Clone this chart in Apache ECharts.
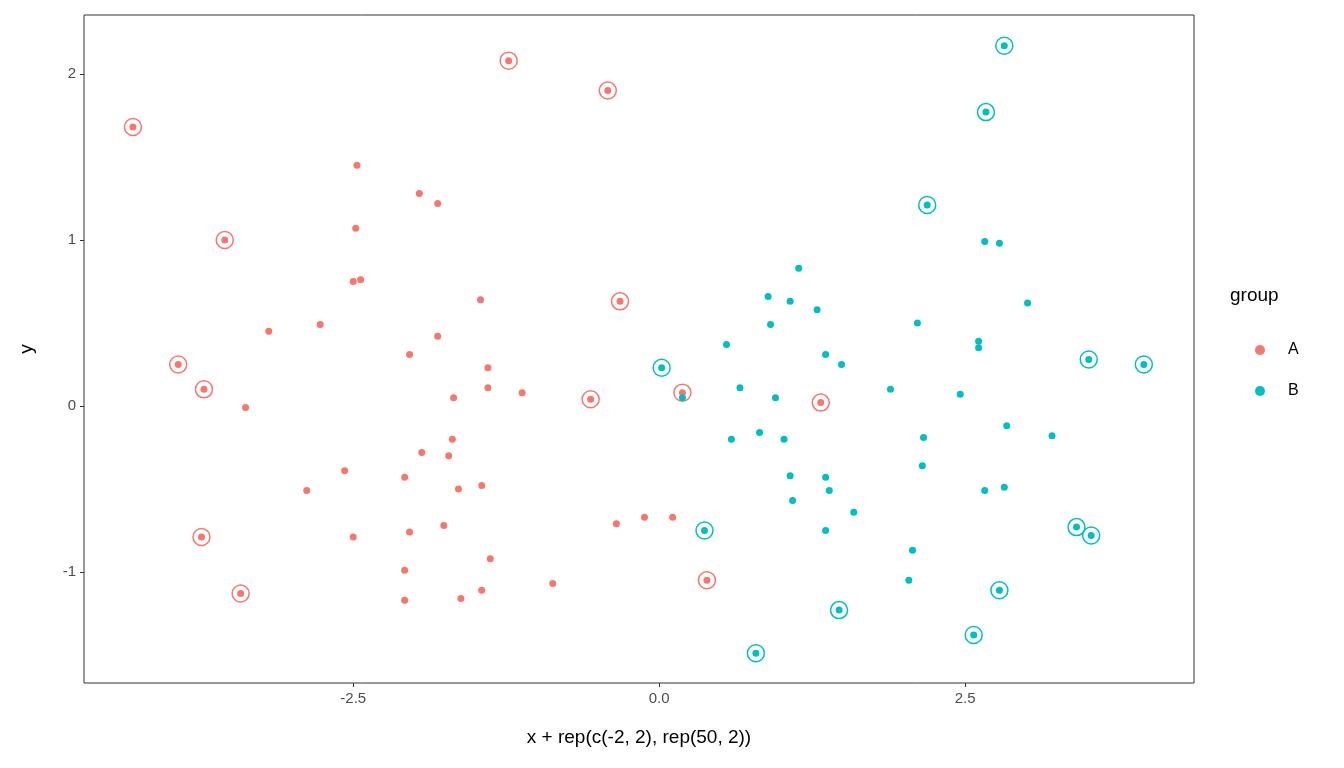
<!DOCTYPE html>
<html>
<head>
<meta charset="utf-8">
<script src="https://cdn.jsdelivr.net/npm/echarts@6/dist/echarts.min.js"></script>
<style>html,body{margin:0;padding:0;background:#fff}#main{width:1344px;height:768px}</style>
</head>
<body>
<div id="main"></div>
<script>
// group A
var aX = [-4.30,-1.23,-0.42,-3.55,-2.47,-1.96,-1.81,-2.48,-2.50,-2.44,-1.46,-0.32,-3.19,-2.77,-1.81,-2.04,-3.93,-1.40,-3.72,-1.40,-1.12,-1.68,-3.38,-0.56,0.19,1.32,-1.69,-1.94,-1.72,-2.57,-2.08,-1.64,-1.45,-2.88,-0.12,0.11,-0.35,-1.76,-2.04,-2.50,-3.74,-1.38,-2.08,0.39,-0.87,-1.45,-3.42,-1.62,-2.08];
var aY = [1.68,2.08,1.90,1.00,1.45,1.28,1.22,1.07,0.75,0.76,0.64,0.63,0.45,0.49,0.42,0.31,0.25,0.23,0.10,0.11,0.08,0.05,-0.01,0.04,0.08,0.02,-0.20,-0.28,-0.30,-0.39,-0.43,-0.50,-0.48,-0.51,-0.67,-0.67,-0.71,-0.72,-0.76,-0.79,-0.79,-0.92,-0.99,-1.05,-1.07,-1.11,-1.13,-1.16,-1.17];
var aRing = [1,1,1,1,0,0,0,0,0,0,0,1,0,0,0,0,1,0,1,0,0,0,0,1,1,1,0,0,0,0,0,0,0,0,0,0,0,0,0,0,1,0,0,1,0,0,1,0,0];
// group B
var bX = [2.82,2.67,2.19,1.14,2.66,2.78,0.89,1.07,1.29,3.01,2.11,0.91,0.55,2.61,2.61,1.36,1.49,3.51,3.96,0.02,0.66,1.89,0.95,2.46,0.19,2.84,3.21,0.82,2.16,1.02,0.59,2.15,1.07,1.36,1.39,2.82,2.66,1.09,1.59,3.41,3.53,0.37,1.36,2.07,2.04,2.78,1.47,2.57,0.79];
var bY = [2.17,1.77,1.21,0.83,0.99,0.98,0.66,0.63,0.58,0.62,0.50,0.49,0.37,0.39,0.35,0.31,0.25,0.28,0.25,0.23,0.11,0.10,0.05,0.07,0.05,-0.12,-0.18,-0.16,-0.19,-0.20,-0.20,-0.36,-0.42,-0.43,-0.51,-0.49,-0.51,-0.57,-0.64,-0.73,-0.78,-0.75,-0.75,-0.87,-1.05,-1.11,-1.23,-1.38,-1.49];
var bRing = [1,1,1,0,0,0,0,0,0,0,0,0,0,0,0,0,0,1,1,1,0,0,0,0,0,0,0,0,0,0,0,0,0,0,0,0,0,0,0,1,1,1,0,0,0,1,1,1,1];
var xTicks = [-2.5, 0, 2.5];
var yTicks = [-1, 0, 1, 2];
var colA = "#F8766D", colB = "#00BFC4";

function pts(xs, ys, ring) {
  var out = [];
  xs.forEach(function (x, i) { if (!ring || ring[i]) out.push([x, ys[i]]); });
  return out;
}
var font = "Liberation Sans, Arial, sans-serif";
var chart = echarts.init(document.getElementById("main"));
chart.setOption({
  animation: false,
  textStyle: { fontFamily: font },
  grid: { left: 84, top: 15, width: 1110, height: 668, show: true, borderColor: "#333", borderWidth: 1 },
  xAxis: {
    type: "value", min: -4.70, max: 4.37,
    name: "x + rep(c(-2, 2), rep(50, 2))", nameLocation: "middle", nameGap: 45,
    nameTextStyle: { color: "#000", fontSize: 19, fontFamily: font },
    axisLine: { show: false, onZero: false },
    axisTick: { show: true, length: 4, lineStyle: { color: "#333" }, customValues: xTicks },
    axisLabel: { color: "#4d4d4d", fontSize: 15, margin: 8, customValues: xTicks,
      formatter: function (v) { return v.toFixed(1); } },
    splitLine: { show: false }
  },
  yAxis: {
    type: "value", min: -1.669, max: 2.355,
    name: "y", nameLocation: "middle", nameGap: 48,
    nameTextStyle: { color: "#000", fontSize: 19, fontFamily: font },
    axisLine: { show: false, onZero: false },
    axisTick: { show: true, length: 4, lineStyle: { color: "#333" }, customValues: yTicks },
    axisLabel: { color: "#4d4d4d", fontSize: 15, margin: 8, customValues: yTicks },
    splitLine: { show: false }
  },
  legend: {
    orient: "vertical", left: 1250, top: 337, itemWidth: 10, itemHeight: 10, itemGap: 25,
    data: [{ name: "A", icon: "circle" }, { name: "B", icon: "circle" }],
    textStyle: { fontSize: 16, color: "#000", padding: [0, 0, 0, 18] }
  },
  graphic: [{ type: "text", left: 1230, top: 286, style: { text: "group", fontSize: 19, fill: "#000", fontFamily: font } }],
  series: [
    { name: "ringA", type: "scatter", symbol: "circle", symbolSize: 17, silent: true, z: 1,
      itemStyle: { color: "rgba(0,0,0,0)", borderColor: colA, borderWidth: 1.5, opacity: 1 }, data: pts(aX, aY, aRing) },
    { name: "ringB", type: "scatter", symbol: "circle", symbolSize: 17, silent: true, z: 1,
      itemStyle: { color: "rgba(0,0,0,0)", borderColor: colB, borderWidth: 1.5, opacity: 1 }, data: pts(bX, bY, bRing) },
    { name: "A", type: "scatter", symbolSize: 7, z: 2, itemStyle: { color: colA, opacity: 1 }, data: pts(aX, aY) },
    { name: "B", type: "scatter", symbolSize: 7, z: 2, itemStyle: { color: colB, opacity: 1 }, data: pts(bX, bY) }
  ]
});
</script>
</body>
</html>
